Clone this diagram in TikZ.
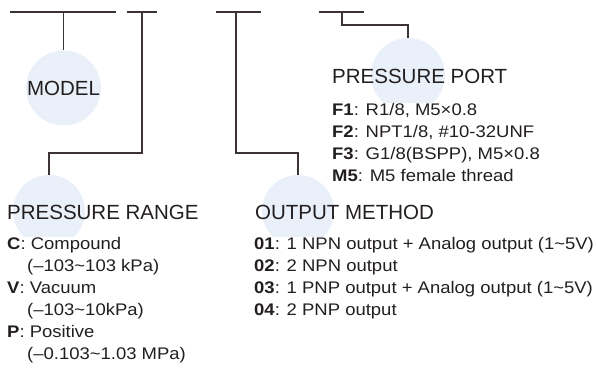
\documentclass[tikz,border=0pt]{standalone}
\usepackage{fontspec}
\setmainfont{Liberation Sans}
\newfontfamily\listfont[FakeStretch=1.1]{Liberation Sans}
\usetikzlibrary{positioning}
\definecolor{ink}{RGB}{35,31,32}
\definecolor{wirecol}{RGB}{60,52,52}
\definecolor{paleblue}{RGB}{234,240,250}

\tikzset{
  bubble/.style={circle,fill=paleblue,minimum size=#1,inner sep=0pt},
  title/.style={font=\fontsize{20.5}{24}\selectfont,text=ink,inner sep=0pt,anchor=base west},
  codes/.style={font=\listfont\fontsize{16.8}{22}\selectfont,text=ink,align=left,
    inner sep=0pt,anchor=base west,fill=white},
  wire/.style={draw=wirecol,line width=1.2pt}
}

\begin{document}
\begin{tikzpicture}[x=1pt,y=-1pt]
  \useasboundingbox (0,0) rectangle (596,367);
  % code slots
  \coordinate (s1w) at (10,12);  \coordinate (s1e) at (116,12);
  \coordinate (s2w) at (127,12); \coordinate (s2e) at (157,12);
  \coordinate (s3w) at (216,12); \coordinate (s3e) at (261,12);
  \coordinate (s4w) at (319,12); \coordinate (s4e) at (364,12);
  \coordinate (d2) at (142,12);
  \coordinate (d3) at (236,12);
  \coordinate (d4) at (342,12);

  % bubbles
  \node[bubble=75,font=\fontsize{20.5}{24}\selectfont,text=ink] (model) at (63.5,88) {MODEL};
  \node[bubble=72] (range) at (49,211) {};
  \node[bubble=72] (output) at (298,211) {};
  \node[bubble=74] (port) at (408,75) {};

  % option lists (base = last line)
  \node[codes] (rangelist) at (7,359) {\textbf{C}: Compound\\
    \hspace*{20pt}(–103\textasciitilde103 kPa)\\
    \textbf{V}: Vacuum\\
    \hspace*{20pt}(–103\textasciitilde10kPa)\\
    \textbf{P}: Positive\\
    \hspace*{20pt}(–0.103\textasciitilde1.03 MPa)};
  \node[codes] (outputlist) at (254,315) {\textbf{01}: 1 NPN output + Analog output (1\textasciitilde5V)\\
    \textbf{02}: 2 NPN output\\
    \textbf{03}: 1 PNP output + Analog output (1\textasciitilde5V)\\
    \textbf{04}: 2 PNP output};
  \node[codes] (portlist) at (332,181) {\textbf{F1}: R1/8, M5×0.8\\
    \textbf{F2}: NPT1/8, \#10-32UNF\\
    \textbf{F3}: G1/8(BSPP), M5×0.8\\
    \textbf{M5}: M5 female thread};

  % headings
  \node[title] (rangetxt) at (7,219.5) {PRESSURE RANGE};
  \node[title] (outputtxt) at (255,219.5) {OUTPUT METHOD};
  \node[title] (porttxt) at (332,83) {PRESSURE PORT};

  % leaders
  \draw[wire] (s1w) -- (s1e);
  \draw[wire] (s2w) -- (s2e);
  \draw[wire] (s3w) -- (s3e);
  \draw[wire] (s4w) -- (s4e);
  \draw[wire] (s1w -| model) -- (model.north);
  \draw[wire] (d2) -- ++(0,141) -| (range.north);
  \draw[wire] (d3) -- ++(0,141) -| (output.north);
  \draw[wire] (d4) -- ++(0,13) -| (port.north);
\end{tikzpicture}
\end{document}
